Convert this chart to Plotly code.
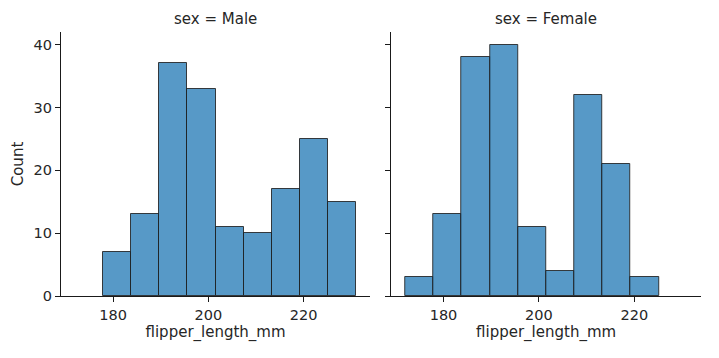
import plotly.graph_objects as go

# Data: shared histogram bin edges (flipper_length_mm) and counts per panel
bin_edges = [172.0, 177.9, 183.8, 189.7, 195.6, 201.5, 207.4, 213.3, 219.2, 225.1, 231.0]
male_counts = [0, 7, 13, 37, 33, 11, 10, 17, 25, 15]
female_counts = [3, 13, 38, 40, 11, 4, 32, 21, 3, 0]
panel_titles = ["sex = Male", "sex = Female"]
x_ticks = [180, 200, 220]
y_ticks = [0, 10, 20, 30, 40]

FONT = "DejaVu Sans, Verdana, sans-serif"
TEXT = "#262626"
BAR = "rgba(31,119,180,0.75)"
EDGE = "rgba(30,30,30,0.85)"

centers = [(a + b) / 2 for a, b in zip(bin_edges[:-1], bin_edges[1:])]
widths = [b - a for a, b in zip(bin_edges[:-1], bin_edges[1:])]

fig = go.Figure()
for i, counts in enumerate([male_counts, female_counts]):
    xs = [c for c, n in zip(centers, counts) if n > 0]
    ws = [w for w, n in zip(widths, counts) if n > 0]
    ys = [n for n in counts if n > 0]
    fig.add_trace(go.Bar(
        x=xs, y=ys, width=ws,
        marker=dict(color=BAR, line=dict(color=EDGE, width=1)),
        xaxis="x" if i == 0 else "x2",
        yaxis="y" if i == 0 else "y2",
        showlegend=False,
    ))

xr = [169.05, 233.95]
yr = [0, 42]
axis_common = dict(
    showgrid=False, zeroline=False, showline=True, linecolor="#1a1a1a", linewidth=1.2,
    ticks="outside", ticklen=5, tickwidth=1, tickcolor="#1a1a1a", automargin=False,
    tickfont=dict(family=FONT, size=14.5, color=TEXT),
)
d1 = [0.0, 0.483]
d2 = [0.516, 1.0]
fig.update_layout(
    width=719, height=358,
    margin=dict(l=61, r=18, t=32, b=62, autoexpand=False),
    plot_bgcolor="white", paper_bgcolor="white",
    font=dict(family=FONT, color=TEXT),
    xaxis=dict(domain=d1, range=xr, tickvals=x_ticks, anchor="y",
               title=dict(text="flipper_length_mm", font=dict(family=FONT, size=15, color=TEXT), standoff=4),
               **axis_common),
    xaxis2=dict(domain=d2, range=xr, tickvals=x_ticks, anchor="y2",
                title=dict(text="flipper_length_mm", font=dict(family=FONT, size=15, color=TEXT), standoff=4),
                **axis_common),
    yaxis=dict(range=yr, tickvals=y_ticks, anchor="x",
               title=dict(text="Count", font=dict(family=FONT, size=15, color=TEXT), standoff=6),
               **axis_common),
    yaxis2=dict(range=yr, tickvals=y_ticks, anchor="x2", showticklabels=False,
                **axis_common),
    bargap=0,
    annotations=[
        dict(text=panel_titles[0], x=sum(d1) / 2, y=1.0, xref="paper", yref="paper",
             xanchor="center", yanchor="bottom", yshift=2, showarrow=False,
             font=dict(family=FONT, size=15, color=TEXT)),
        dict(text=panel_titles[1], x=sum(d2) / 2, y=1.0, xref="paper", yref="paper",
             xanchor="center", yanchor="bottom", yshift=2, showarrow=False,
             font=dict(family=FONT, size=15, color=TEXT)),
    ],
)

fig.write_html("out.html", config={"displayModeBar": False},
               post_script="document.body.style.margin='0px';")
